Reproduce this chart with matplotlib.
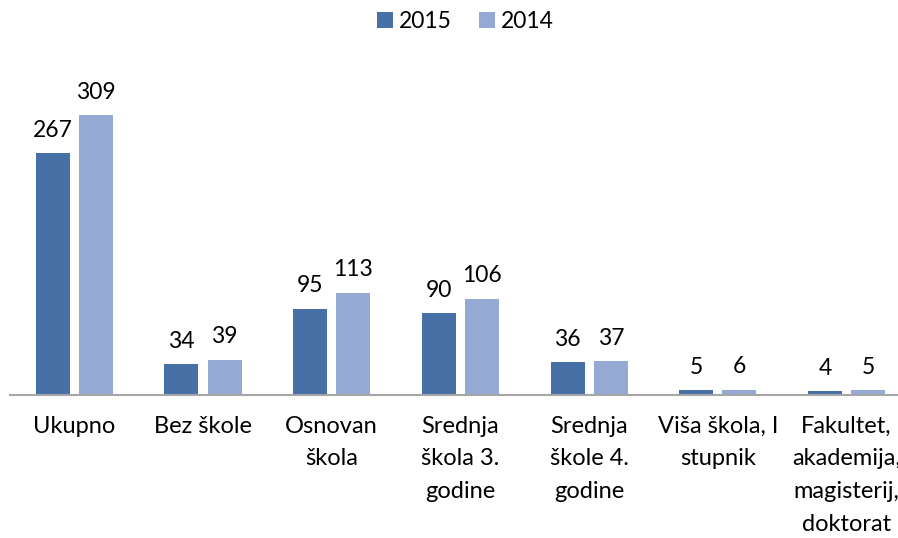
import numpy as np
import matplotlib
matplotlib.use('Agg')
import matplotlib.pyplot as plt

categories = ["Ukupno", "Bez škole", "Osnovan\nškola", "Srednja\nškola 3.\ngodine",
              "Srednja\nškole 4.\ngodine", "Viša škola, I\nstupnik",
              "Fakultet,\nakademija,\nmagisterij,\ndoktorat"]
v2015 = [267, 34, 95, 90, 36, 5, 4]
v2014 = [309, 39, 113, 106, 37, 6, 5]

c2015 = '#4770A7'
c2014 = '#95AAD3'

plt.rcParams['font.family'] = ['Lato', 'DejaVu Sans']

W, H = 898, 538
fig = plt.figure(figsize=(W / 100, H / 100), dpi=100)
# axes runs past the right edge, like the clipped original
x0, x1 = 10, 10 + 7 * 128.7
yb = 395
ymax = 350
px_per_unit = 0.906
ax = fig.add_axes([x0 / W, (H - yb) / H, (x1 - x0) / W, ymax * px_per_unit / H])

x = np.arange(len(categories))
off = 0.168
bw = 0.264
b1 = ax.bar(x - off, v2015, bw, color=c2015, label='2015')
b2 = ax.bar(x + off, v2014, bw, color=c2014, label='2014')

for bars, vals in ((b1, v2015), (b2, v2014)):
    for b, v in zip(bars, vals):
        ax.annotate(str(v), (b.get_x() + b.get_width() / 2, v), xytext=(0, 9),
                    textcoords='offset points', ha='center', va='bottom', fontsize=16.5)

ax.set_xlim(-0.5, len(categories) - 0.5)
ax.set_ylim(0, ymax)
ax.set_xticks(x)
ax.set_xticklabels(categories, fontsize=17, linespacing=1.68)
ax.tick_params(axis='x', length=0, pad=15)
ax.set_yticks([])
for s in ['top', 'right', 'left']:
    ax.spines[s].set_visible(False)
ax.spines['bottom'].set_color('#A6A6A6')
ax.spines['bottom'].set_linewidth(1.5)

fig.legend(handles=[b1, b2], loc='center', bbox_to_anchor=(465 / W, 1 - 22 / H),
           ncol=2, frameon=False, fontsize=16.5, handlelength=0.7, handleheight=0.7,
           handletextpad=0.25, columnspacing=1.2)

fig.savefig('out.png', dpi=100)
